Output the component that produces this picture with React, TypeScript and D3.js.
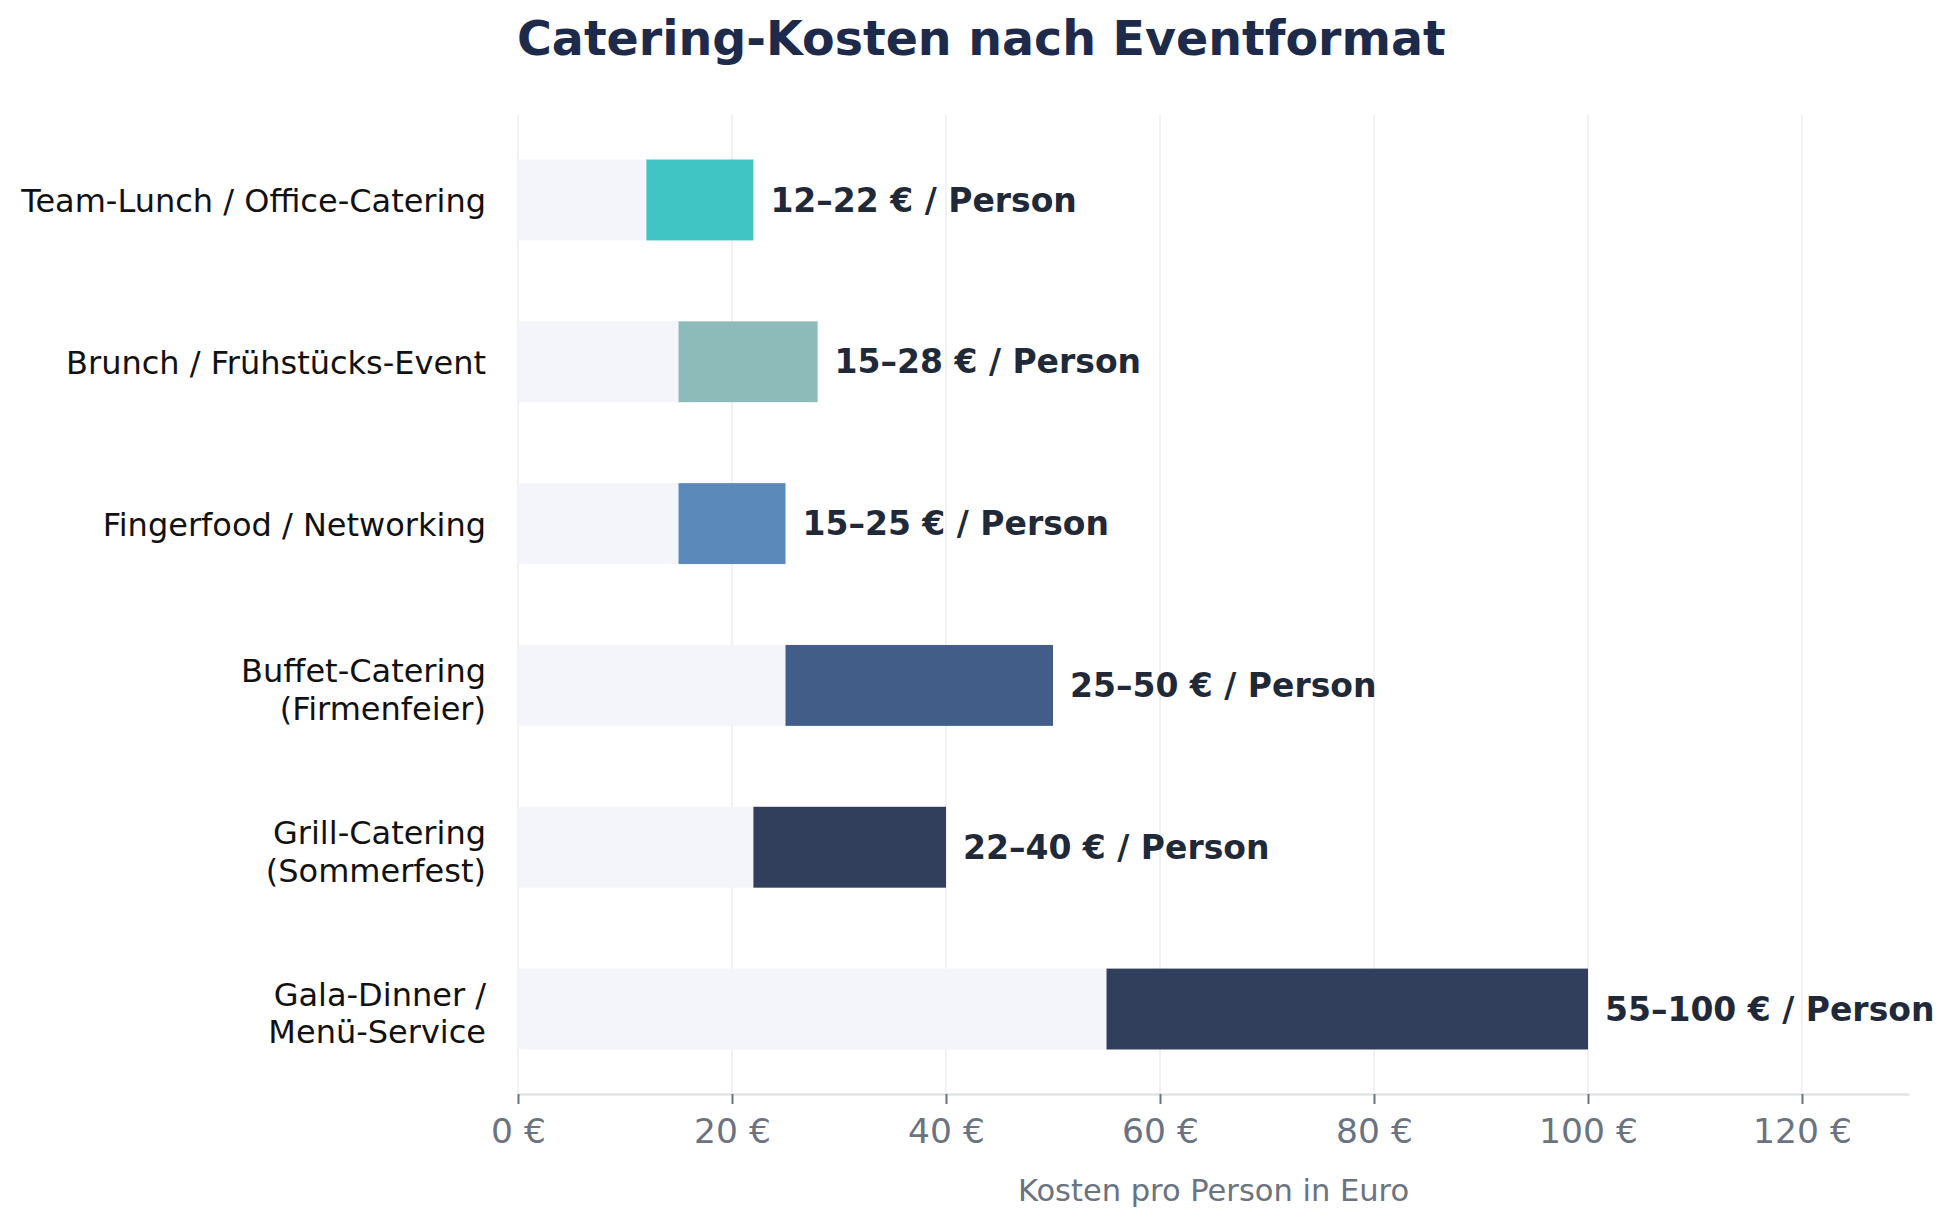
import React, { useEffect, useRef } from 'react';
import * as d3 from 'd3';

// Event formats, top to bottom
const categories = [
  'Team-Lunch / Office-Catering',
  'Brunch / Frühstücks-Event',
  'Fingerfood / Networking',
  'Buffet-Catering\n(Firmenfeier)',
  'Grill-Catering\n(Sommerfest)',
  'Gala-Dinner /\nMenü-Service',
];
const minCost = [12, 15, 15, 25, 22, 55];
const maxCost = [22, 28, 25, 50, 40, 100];
const barColors = ['#36c1c1', '#87b7b6', '#5283b6', '#395483', '#273553', '#273553'];
const xTicks = [0, 20, 40, 60, 80, 100, 120];

const TITLE = 'Catering-Kosten nach Eventformat';
const X_LABEL = 'Kosten pro Person in Euro';

export default function App() {
  const containerRef = useRef<HTMLDivElement>(null);

  useEffect(() => {
    if (!containerRef.current) return;
    document.body.style.margin = '0';

    const container = d3.select(containerRef.current);
    container.selectAll('*').remove();

    const width = 1957;
    const height = 1225;
    const margin = { top: 115, right: 48, bottom: 131, left: 518 };
    const innerWidth = width - margin.left - margin.right;
    const innerHeight = height - margin.top - margin.bottom;
    const font = 'DejaVu Sans, sans-serif';

    const svg = container.append('svg')
      .attr('width', width)
      .attr('height', height)
      .style('display', 'block')
      .style('background', '#ffffff');

    const g = svg.append('g')
      .attr('transform', `translate(${margin.left},${margin.top})`);

    const xScale = d3.scaleLinear().domain([0, 130]).range([0, innerWidth]);
    const yScale = d3.scaleBand<number>()
      .domain(categories.map((_, i) => i))
      .range([0, innerHeight])
      .paddingInner(0.5)
      .paddingOuter(0.275);

    // vertical grid
    g.append('g')
      .selectAll('line')
      .data(xTicks)
      .join('line')
      .attr('x1', d => xScale(d))
      .attr('x2', d => xScale(d))
      .attr('y1', 0)
      .attr('y2', innerHeight)
      .attr('stroke', '#ececef')
      .attr('stroke-width', 1.5);

    const idx = categories.map((_, i) => i);

    // light base bar from 0 to minimum
    g.append('g')
      .selectAll('rect')
      .data(idx)
      .join('rect')
      .attr('x', xScale(0))
      .attr('y', i => yScale(i) as number)
      .attr('width', i => xScale(minCost[i]) - xScale(0))
      .attr('height', yScale.bandwidth())
      .attr('fill', '#f4f5fa');

    // price range bar
    g.append('g')
      .selectAll('rect')
      .data(idx)
      .join('rect')
      .attr('x', i => xScale(minCost[i]))
      .attr('y', i => yScale(i) as number)
      .attr('width', i => xScale(maxCost[i]) - xScale(minCost[i]))
      .attr('height', yScale.bandwidth())
      .attr('fill', i => barColors[i])
      .attr('fill-opacity', 0.95);

    // value labels
    g.append('g')
      .selectAll('text')
      .data(idx)
      .join('text')
      .attr('x', i => xScale(maxCost[i]) + 17)
      .attr('y', i => (yScale(i) as number) + yScale.bandwidth() / 2)
      .attr('dy', '0.35em')
      .style('font-family', font)
      .style('font-size', '33px')
      .style('font-weight', 'bold')
      .attr('fill', '#1f2937')
      .text(i => `${minCost[i]}–${maxCost[i]} € / Person`);

    // category labels (multi-line)
    const catLabels = g.append('g')
      .selectAll('text')
      .data(idx)
      .join('text')
      .attr('x', -32)
      .attr('y', i => (yScale(i) as number) + yScale.bandwidth() / 2)
      .attr('text-anchor', 'end')
      .style('font-family', font)
      .style('font-size', '32px')
      .attr('fill', '#111111');

    catLabels.each(function (i) {
      const lines = categories[i].split('\n');
      const sel = d3.select(this);
      lines.forEach((line, k) => {
        const dy = lines.length === 1 ? 12 : (k === 0 ? -3 : 37.3);
        sel.append('tspan')
          .attr('x', -32)
          .attr('dy', k === 0 ? dy : 37.3)
          .text(line);
      });
    });

    // x axis
    const xAxis = g.append('g')
      .attr('transform', `translate(0,${innerHeight})`)
      .call(d3.axisBottom(xScale)
        .tickValues(xTicks)
        .tickSize(10)
        .tickPadding(15)
        .tickSizeOuter(0)
        .tickFormat(d => `${d} €`));

    xAxis.select('.domain')
      .attr('stroke', '#e2e4ea')
      .attr('stroke-width', 2.5);
    xAxis.selectAll('.tick line')
      .attr('stroke', '#6b7280')
      .attr('stroke-width', 2);
    xAxis.selectAll('.tick text')
      .style('font-family', font)
      .style('font-size', '34.5px')
      .attr('fill', '#6b7280');

    // x axis title
    g.append('text')
      .attr('x', innerWidth / 2)
      .attr('y', innerHeight + 107)
      .attr('text-anchor', 'middle')
      .style('font-family', font)
      .style('font-size', '30.5px')
      .attr('fill', '#6b7280')
      .text(X_LABEL);

    // chart title
    svg.append('text')
      .attr('x', margin.left - 1)
      .attr('y', 55)
      .style('font-family', font)
      .style('font-size', '47.5px')
      .style('font-weight', 'bold')
      .attr('fill', '#1e2a4a')
      .text(TITLE);
  }, []);

  return <div ref={containerRef} style={{ width: 1957, height: 1225 }} />;
}
